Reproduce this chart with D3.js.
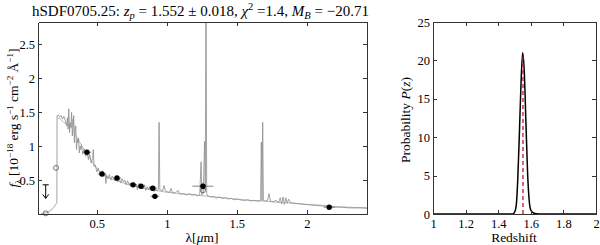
<!DOCTYPE html>
<meta charset="utf-8">
<title>SED fit</title>
<style>
body { margin: 0; background: #fff; }
svg { font-family: "Liberation Serif", "DejaVu Serif", serif; }
.axis path, .axis line { fill: none; stroke: #333; stroke-width: 1; shape-rendering: crispEdges; }
.spec { fill: none; stroke: #8c8c8c; stroke-width: 0.8; }
.model { fill: none; stroke: #a8a8a8; stroke-width: 0.8; }
</style>
<body>
<script src="https://d3js.org/d3.v7.min.js"></script>
<script>
// spectrum (wavelength in micron, flux in 1e-18 units)
var specLam = [0.10, 0.12, 0.14, 0.16, 0.18, 0.19, 0.20, 0.21, 0.215, 0.216, 0.225, 0.235, 0.245, 0.255, 0.265, 0.275, 0.285, 0.29, 0.295, 0.30,
  0.305, 0.31, 0.315, 0.32, 0.325, 0.33, 0.335, 0.34, 0.345, 0.35, 0.355, 0.36, 0.365, 0.37, 0.375, 0.38, 0.385, 0.39, 0.40, 0.41,
  0.42, 0.43, 0.44, 0.45, 0.46, 0.47, 0.475, 0.48, 0.49, 0.50, 0.51, 0.52, 0.53, 0.54, 0.55, 0.56, 0.565, 0.57, 0.58, 0.59,
  0.60, 0.61, 0.62, 0.63, 0.64, 0.65, 0.66, 0.67, 0.68, 0.69, 0.70, 0.71, 0.72, 0.73, 0.74, 0.75, 0.76, 0.77, 0.78, 0.79,
  0.80, 0.81, 0.82, 0.83, 0.84, 0.85, 0.86, 0.87, 0.88, 0.89, 0.90, 0.91, 0.92, 0.93, 0.94, 0.945, 0.95, 0.96, 0.97, 0.98,
  0.99, 1.00, 1.02, 1.03, 1.04, 1.06, 1.08, 1.09, 1.10, 1.12, 1.14, 1.16, 1.18, 1.20, 1.22, 1.235, 1.245, 1.25, 1.26, 1.27,
  1.275, 1.28, 1.285, 1.29, 1.30, 1.32, 1.34, 1.35, 1.37, 1.40, 1.42, 1.44, 1.46, 1.48, 1.50, 1.52, 1.55, 1.58, 1.60, 1.62,
  1.65, 1.67, 1.675, 1.68, 1.685, 1.69, 1.70, 1.72, 1.73, 1.74, 1.76, 1.78, 1.80, 1.81, 1.82, 1.83, 1.84, 1.85, 1.86, 1.87,
  1.88, 1.90, 1.95, 2.00, 2.05, 2.10, 2.15, 2.20, 2.25, 2.30, 2.35, 2.40, 2.43];
var specFlux = [0.00, 0.01, 0.02, 0.04, 0.07, 0.09, 0.12, 0.15, 0.17, 1.45, 1.46, 1.43, 1.45, 1.40, 1.44, 1.38, 1.30, 1.42, 1.25, 1.55,
  1.20, 1.35, 1.28, 1.50, 1.15, 1.30, 1.45, 1.05, 1.22, 1.30, 0.95, 1.10, 1.05, 1.12, 0.90, 1.00, 0.95, 1.02, 0.88, 0.96,
  0.85, 0.92, 0.80, 0.88, 0.75, 0.82, 0.95, 0.70, 0.72, 0.62, 0.68, 0.60, 0.58, 0.64, 0.55, 0.60, 0.45, 0.57, 0.52, 0.58,
  0.50, 0.56, 0.52, 0.49, 0.55, 0.48, 0.53, 0.46, 0.52, 0.47, 0.50, 0.43, 0.49, 0.44, 0.46, 0.40, 0.47, 0.42, 0.44, 0.36,
  0.45, 0.39, 0.41, 0.37, 0.43, 0.35, 0.40, 0.36, 0.41, 0.34, 0.38, 0.33, 0.37, 0.34, 0.36, 1.35, 0.36, 0.35, 0.34, 0.42,
  0.34, 0.33, 0.32, 0.38, 0.31, 0.31, 0.35, 0.30, 0.29, 0.30, 0.28, 0.30, 0.28, 0.29, 0.27, 0.28, 0.77, 0.28, 0.30, 1.07,
  0.35, 3.50, 0.30, 0.27, 0.26, 0.25, 0.26, 0.23, 0.25, 0.23, 0.24, 0.22, 0.23, 0.21, 0.22, 0.21, 0.20, 0.21, 0.19, 0.20,
  0.19, 0.20, 1.06, 0.20, 1.35, 0.20, 0.19, 0.20, 0.30, 0.19, 0.18, 0.20, 0.17, 0.24, 0.15, 0.25, 0.14, 0.24, 0.16, 0.22,
  0.17, 0.16, 0.15, 0.14, 0.13, 0.12, 0.11, 0.10, 0.10, 0.09, 0.09, 0.09, 0.085];

// second, smoother gray trace underneath (model template)
var modelLam = [0.22, 0.24, 0.26, 0.28, 0.30, 0.32, 0.33, 0.34, 0.36, 0.38, 0.40, 0.42, 0.44, 0.46, 0.48, 0.50, 0.52, 0.55, 0.58, 0.61,
  0.64, 0.67, 0.70, 0.73, 0.76, 0.79, 0.82, 0.85, 0.88, 0.91, 0.94, 0.97, 1.00, 1.05, 1.10, 1.20, 1.30, 1.40, 1.50, 1.60,
  1.70, 1.80, 1.90, 2.00, 2.10, 2.20, 2.30, 2.43];
var modelFlux = [1.42, 1.40, 1.36, 1.33, 1.30, 1.27, 1.40, 1.18, 1.12, 1.05, 0.98, 0.92, 0.85, 0.79, 0.73, 0.67, 0.63, 0.58, 0.54, 0.51,
  0.49, 0.47, 0.45, 0.43, 0.41, 0.40, 0.38, 0.37, 0.36, 0.35, 0.34, 0.33, 0.32, 0.31, 0.30, 0.28, 0.26, 0.24, 0.22, 0.20,
  0.19, 0.17, 0.16, 0.14, 0.13, 0.11, 0.10, 0.09];

// photometry
var photLam = [0.43, 0.537, 0.644, 0.759, 0.816, 0.90, 0.915, 1.258, 2.16];
var photFlux = [0.91, 0.59, 0.53, 0.43, 0.41, 0.38, 0.26, 0.41, 0.10];
var photLamErr = [0.03, 0.03, 0.03, 0.03, 0.03, 0.03, 0.03, 0.075, 0.04];
var photFluxErr = [0.02, 0.02, 0.02, 0.02, 0.02, 0.02, 0.02, 0.05, 0.01];
var openLam = [0.135, 0.209, 1.258];
var openFlux = [0.01, 0.68, 0.35];
var limitLam = [0.135];
var limitFlux = [0.43];

// redshift probability
var zGrid = [1.0, 1.45, 1.49, 1.50, 1.51, 1.52, 1.53, 1.54, 1.55, 1.56, 1.57, 1.58, 1.59, 1.60, 1.62, 1.65, 2.0];
var pz = [0, 0, 0, 0.2, 1.0, 4.5, 10.5, 17, 21, 18.5, 12, 5.5, 1.8, 0.5, 0.1, 0, 0];
var zPhot = 1.552;

var lamTicks = [0.5, 1, 1.5, 2];
var fluxTicks = [0.5, 1, 1.5, 2, 2.5];
var zTicks = [1, 1.2, 1.4, 1.6, 1.8, 2];
var pTicks = [0, 5, 10, 15, 20, 25];

var serif = "Liberation Serif, DejaVu Serif, serif";

var svg = d3.select("body").append("svg")
  .attr("width", 600).attr("height", 245)
  .style("font-family", serif);

function styleAxis(g) {
  g.attr("font-family", serif).attr("font-size", 12.5);
  g.selectAll("text").attr("fill", "#000").style("font-family", serif);
}

// ---------- left panel: SED ----------
var x = d3.scaleLinear().domain([0.08, 2.43]).range([38, 367]);
var y = d3.scaleLinear().domain([0, 2.83]).range([214, 22]);

svg.append("clipPath").attr("id", "clipL")
  .append("rect").attr("x", 38).attr("y", 22).attr("width", 329).attr("height", 192);

var plotL = svg.append("g").attr("clip-path", "url(#clipL)");
plotL.append("path")
  .datum(d3.range(modelLam.length))
  .attr("class", "model")
  .attr("d", d3.line().x(function(i) { return x(modelLam[i]); }).y(function(i) { return y(modelFlux[i]); }));
plotL.append("path")
  .datum(d3.range(specLam.length))
  .attr("class", "spec")
  .attr("d", d3.line().x(function(i) { return x(specLam[i]); }).y(function(i) { return y(specFlux[i]); }));

var phot = svg.append("g");
photLam.forEach(function(l, i) {
  phot.append("line").attr("x1", x(l - photLamErr[i])).attr("x2", x(l + photLamErr[i]))
    .attr("y1", y(photFlux[i])).attr("y2", y(photFlux[i])).attr("stroke", "#666").attr("stroke-width", 0.8);
  phot.append("line").attr("x1", x(l)).attr("x2", x(l))
    .attr("y1", y(photFlux[i] - photFluxErr[i])).attr("y2", y(photFlux[i] + photFluxErr[i])).attr("stroke", "#666").attr("stroke-width", 0.8);
});
openLam.forEach(function(l, i) {
  phot.append("circle").attr("cx", x(l)).attr("cy", y(openFlux[i])).attr("r", 2.5)
    .attr("fill", "none").attr("stroke", "#555").attr("stroke-width", 0.8);
});
photLam.forEach(function(l, i) {
  phot.append("circle").attr("cx", x(l)).attr("cy", y(photFlux[i])).attr("r", 2.7).attr("fill", "#000");
});
limitLam.forEach(function(l, i) {
  var x0 = x(l), y0 = y(limitFlux[i]), y1 = y(limitFlux[i] - 0.2);
  phot.append("line").attr("x1", x0).attr("x2", x0).attr("y1", y0).attr("y2", y1).attr("stroke", "#000").attr("stroke-width", 1);
  phot.append("path").attr("d", "M" + (x0 - 3) + "," + (y1 - 4) + "L" + x0 + "," + y1 + "L" + (x0 + 3) + "," + (y1 - 4))
    .attr("fill", "none").attr("stroke", "#000").attr("stroke-width", 1);
  phot.append("line").attr("x1", x0 - 3).attr("x2", x0 + 3).attr("y1", y0).attr("y2", y0).attr("stroke", "#000");
});

svg.append("g").attr("class", "axis").attr("transform", "translate(0,214)")
  .call(d3.axisBottom(x).tickValues(lamTicks).tickSize(-4).tickPadding(5).tickSizeOuter(0).tickFormat(d3.format("")))
  .call(styleAxis);
svg.append("g").attr("class", "axis").attr("transform", "translate(0,22)")
  .call(d3.axisTop(x).tickValues(lamTicks).tickSize(-4).tickSizeOuter(0).tickFormat(""));
svg.append("g").attr("class", "axis").attr("transform", "translate(38,0)")
  .call(d3.axisLeft(y).tickValues(fluxTicks).tickSize(-4).tickPadding(3).tickSizeOuter(0).tickFormat(d3.format("")))
  .call(styleAxis);
svg.append("g").attr("class", "axis").attr("transform", "translate(367,0)")
  .call(d3.axisRight(y).tickValues(fluxTicks).tickSize(-4).tickSizeOuter(0).tickFormat(""));

// title
var title = svg.append("text").attr("x", 32).attr("y", 16).style("font-size", "15px");
title.append("tspan").text("hSDF0705.25:  ");
title.append("tspan").style("font-style", "italic").text("z");
title.append("tspan").style("font-style", "italic").style("font-size", "10.5px").attr("dy", 3).text("p");
title.append("tspan").attr("dy", -3).text(" = 1.552 \u00b1 0.018,  ");
title.append("tspan").style("font-style", "italic").text("\u03c7");
title.append("tspan").style("font-size", "10.5px").attr("dy", -6).text("2");
title.append("tspan").attr("dy", 6).text(" =1.4,  ");
title.append("tspan").style("font-style", "italic").text("M");
title.append("tspan").style("font-style", "italic").style("font-size", "10.5px").attr("dy", 3).text("B");
title.append("tspan").attr("dy", -3).text(" = \u221220.71");

// y label
var yl = svg.append("text").attr("transform", "translate(18,118) rotate(-90)")
  .attr("text-anchor", "middle").style("font-size", "13.5px");
yl.append("tspan").style("font-style", "italic").text("f");
yl.append("tspan").style("font-size", "9px").attr("dy", 3).text("\u03bb");
yl.append("tspan").attr("dy", -3).text(" [10");
yl.append("tspan").style("font-size", "9px").attr("dy", -5).text("\u221218");
yl.append("tspan").attr("dy", 5).text(" erg s");
yl.append("tspan").style("font-size", "9px").attr("dy", -5).text("\u22121");
yl.append("tspan").attr("dy", 5).text(" cm");
yl.append("tspan").style("font-size", "9px").attr("dy", -5).text("\u22122");
yl.append("tspan").attr("dy", 5).text(" \u00c5");
yl.append("tspan").style("font-size", "9px").attr("dy", -5).text("\u22121");
yl.append("tspan").attr("dy", 5).text("]");

// x label
var xl = svg.append("text").attr("x", 202).attr("y", 242).attr("text-anchor", "middle").style("font-size", "13.5px");
xl.append("tspan").text("\u03bb[");
xl.append("tspan").style("font-style", "italic").text("\u03bc");
xl.append("tspan").text("m]");

// ---------- right panel: P(z) ----------
var xz = d3.scaleLinear().domain([1, 2]).range([433, 596]);
var yp = d3.scaleLinear().domain([0, 25]).range([214, 22]);

svg.append("path")
  .datum(d3.range(zGrid.length))
  .attr("fill", "none").attr("stroke", "#000").attr("stroke-width", 1.5)
  .attr("d", d3.line().curve(d3.curveMonotoneX)
    .x(function(i) { return xz(zGrid[i]); }).y(function(i) { return yp(pz[i]); }));

svg.append("line").attr("x1", xz(zPhot)).attr("x2", xz(zPhot))
  .attr("y1", yp(0)).attr("y2", yp(20.5))
  .attr("stroke", "#d0102a").attr("stroke-width", 1.3).attr("stroke-dasharray", "4,3");

svg.append("g").attr("class", "axis").attr("transform", "translate(0,214)")
  .call(d3.axisBottom(xz).tickValues(zTicks).tickSize(-4).tickPadding(5).tickSizeOuter(0).tickFormat(d3.format("")))
  .call(styleAxis);
svg.append("g").attr("class", "axis").attr("transform", "translate(0,22)")
  .call(d3.axisTop(xz).tickValues(zTicks).tickSize(-4).tickSizeOuter(0).tickFormat(""));
svg.append("g").attr("class", "axis").attr("transform", "translate(433,0)")
  .call(d3.axisLeft(yp).tickValues(pTicks).tickSize(-4).tickPadding(3).tickSizeOuter(0).tickFormat(d3.format("")))
  .call(styleAxis);
svg.append("g").attr("class", "axis").attr("transform", "translate(596,0)")
  .call(d3.axisRight(yp).tickValues(pTicks).tickSize(-4).tickSizeOuter(0).tickFormat(""));

var pl = svg.append("text").attr("transform", "translate(410,120) rotate(-90)")
  .attr("text-anchor", "middle").style("font-size", "13.5px");
pl.append("tspan").text("Probability ");
pl.append("tspan").style("font-style", "italic").text("P");
pl.append("tspan").text("(");
pl.append("tspan").style("font-style", "italic").text("z");
pl.append("tspan").text(")");

svg.append("text").attr("x", 514).attr("y", 242).attr("text-anchor", "middle")
  .style("font-size", "13.5px").text("Redshift");
</script>
</body>
